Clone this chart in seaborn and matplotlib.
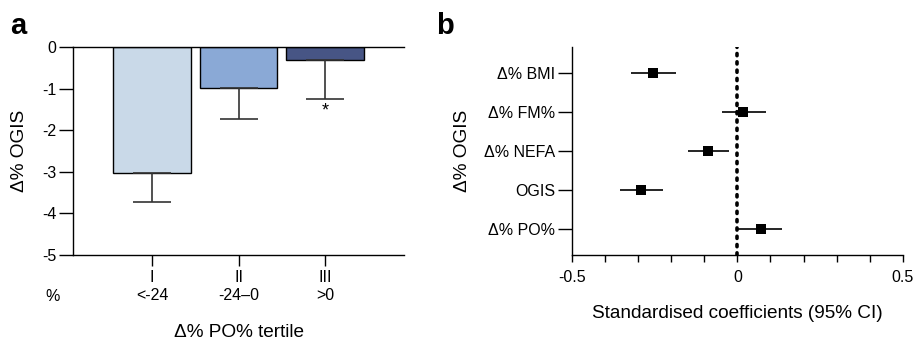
import numpy as np
import matplotlib
matplotlib.use('Agg')
import matplotlib.pyplot as plt
import seaborn as sns

# panel a: change in OGIS by tertile of change in PO%
tertiles = ['I\n<-24', 'II\n-24\u20130', 'III\n>0']
ogis_mean = [-3.02, -0.99, -0.31]
ogis_low = [-3.72, -1.73, -1.24]
bar_colors = ['#c9d9e8', '#8aa9d6', '#475585']

# panel b: standardised coefficients (95% CI)
predictors = ['\u0394% BMI', '\u0394% FM%', '\u0394% NEFA', 'OGIS', '\u0394% PO%']
coef = [-0.254, 0.018, -0.088, -0.291, 0.070]
ci_low = [-0.321, -0.047, -0.150, -0.354, 0.000]
ci_high = [-0.185, 0.086, -0.024, -0.225, 0.136]

sns.set_style('ticks', {'axes.edgecolor': 'black', 'text.color': 'black',
                        'axes.labelcolor': 'black', 'xtick.color': 'black',
                        'ytick.color': 'black'})
plt.rcParams['font.family'] = ['Liberation Sans', 'DejaVu Sans']
plt.rcParams['axes.linewidth'] = 1.0

fig = plt.figure(figsize=(9.17, 3.42), dpi=100)
ax1 = fig.add_axes([0.0796, 0.2544, 0.361, 0.6082])
ax2 = fig.add_axes([0.6234, 0.2544, 0.3613, 0.6082])

# ---- panel a ----
sns.barplot(x=tertiles, y=ogis_mean, hue=tertiles, palette=bar_colors, width=0.9,
            saturation=1, edgecolor='black', linewidth=1, legend=False, ax=ax1)
pos = np.arange(len(tertiles))
down = np.array(ogis_mean) - np.array(ogis_low)
ax1.errorbar(pos, ogis_mean, yerr=[down, np.zeros(len(pos))], fmt='none',
             ecolor='#333333', elinewidth=1.2, capsize=14, capthick=1.2, zorder=1)
ax1.text(2, -1.55, '*', ha='center', va='center', fontsize=13)
ax1.set_ylim(-5, 0)
ax1.set_xlim(-0.913, 2.913)
ax1.set_yticks([0, -1, -2, -3, -4, -5], labels=['0', '-1', '-2', '-3', '-4', '-5'])
ax1.tick_params(axis='y', length=10, width=1, labelsize=11.5, pad=2)
ax1.tick_params(axis='x', length=8, width=1, labelsize=11.5, pad=3)
sns.despine(ax=ax1, top=False, right=True)
ax1.set_ylabel('\u0394% OGIS', fontsize=13.7, labelpad=10)
ax1.set_xlabel('\u0394% PO% tertile', fontsize=13.7, labelpad=15)
ax1.text(-0.063, -0.2, '%', transform=ax1.transAxes, ha='center', va='center', fontsize=11.5)
fig.text(0.011, 0.925, 'a', fontsize=21, fontweight='bold', va='center')

# ---- panel b ----
ypos = np.arange(len(predictors))
ax2.axvline(0, color='black', ls=(0, (0.6, 1.7)), lw=2.6, dash_capstyle='round', zorder=1)
ax2.hlines(ypos, ci_low, ci_high, color='black', lw=1.2, zorder=2)
sns.pointplot(x=coef, y=predictors, orient='h', markers='s', linestyle='none',
              color='black', markersize=6.5, markeredgewidth=0, errorbar=None,
              ax=ax2, zorder=3)
ax2.set_xlim(-0.5, 0.5)
ax2.set_ylim(4.67, -0.66)
xt = np.round(np.arange(-0.5, 0.51, 0.1), 1)
ax2.set_xticks(xt, labels=['-0.5' if v == -0.5 else '0' if v == 0 else '0.5' if v == 0.5 else '' for v in xt])
ax2.tick_params(axis='x', length=5, width=1, labelsize=11.5, pad=6)
ax2.tick_params(axis='y', length=10, width=1, labelsize=11.5, pad=2)
sns.despine(ax=ax2)
ax2.set_ylabel('\u0394% OGIS', fontsize=13.7, labelpad=9)
ax2.set_xlabel('Standardised coefficients (95% CI)', fontsize=13.7, labelpad=14)
fig.text(0.476, 0.925, 'b', fontsize=21, fontweight='bold', va='center')

fig.savefig('out.png', dpi=100)
